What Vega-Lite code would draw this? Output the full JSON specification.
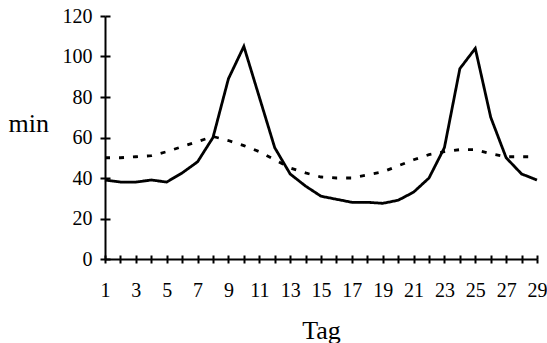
{
  "$schema": "https://vega.github.io/schema/vega-lite/v6.json",
  "width": 432,
  "height": 243,
  "autosize": {"type": "none"},
  "padding": {"left": 105, "top": 16, "right": 10, "bottom": 84},
  "background": "white",
  "config": {"view": {"stroke": null}, "font": "Liberation Serif"},
  "data": {
    "values": [
      {"Tag": 1, "serie": "A", "min": 39}, {"Tag": 2, "serie": "A", "min": 38}, {"Tag": 3, "serie": "A", "min": 38},
      {"Tag": 4, "serie": "A", "min": 39}, {"Tag": 5, "serie": "A", "min": 38}, {"Tag": 6, "serie": "A", "min": 42.5},
      {"Tag": 7, "serie": "A", "min": 48}, {"Tag": 8, "serie": "A", "min": 60}, {"Tag": 9, "serie": "A", "min": 89},
      {"Tag": 10, "serie": "A", "min": 105}, {"Tag": 11, "serie": "A", "min": 80}, {"Tag": 12, "serie": "A", "min": 55},
      {"Tag": 13, "serie": "A", "min": 42}, {"Tag": 14, "serie": "A", "min": 36}, {"Tag": 15, "serie": "A", "min": 31},
      {"Tag": 16, "serie": "A", "min": 29.5}, {"Tag": 17, "serie": "A", "min": 28}, {"Tag": 18, "serie": "A", "min": 28},
      {"Tag": 19, "serie": "A", "min": 27.5}, {"Tag": 20, "serie": "A", "min": 29}, {"Tag": 21, "serie": "A", "min": 33},
      {"Tag": 22, "serie": "A", "min": 40}, {"Tag": 23, "serie": "A", "min": 55}, {"Tag": 24, "serie": "A", "min": 94},
      {"Tag": 25, "serie": "A", "min": 104}, {"Tag": 26, "serie": "A", "min": 70}, {"Tag": 27, "serie": "A", "min": 50},
      {"Tag": 28, "serie": "A", "min": 42}, {"Tag": 29, "serie": "A", "min": 39},
      {"Tag": 1, "serie": "B", "min": 50}, {"Tag": 2, "serie": "B", "min": 50}, {"Tag": 3, "serie": "B", "min": 50.5},
      {"Tag": 4, "serie": "B", "min": 51}, {"Tag": 5, "serie": "B", "min": 53}, {"Tag": 6, "serie": "B", "min": 55.5},
      {"Tag": 7, "serie": "B", "min": 58}, {"Tag": 8, "serie": "B", "min": 60.5}, {"Tag": 9, "serie": "B", "min": 58.5},
      {"Tag": 10, "serie": "B", "min": 56}, {"Tag": 11, "serie": "B", "min": 53}, {"Tag": 12, "serie": "B", "min": 49},
      {"Tag": 13, "serie": "B", "min": 45}, {"Tag": 14, "serie": "B", "min": 42.5}, {"Tag": 15, "serie": "B", "min": 40.5},
      {"Tag": 16, "serie": "B", "min": 40}, {"Tag": 17, "serie": "B", "min": 40}, {"Tag": 18, "serie": "B", "min": 41.5},
      {"Tag": 19, "serie": "B", "min": 43}, {"Tag": 20, "serie": "B", "min": 46}, {"Tag": 21, "serie": "B", "min": 49},
      {"Tag": 22, "serie": "B", "min": 51.5}, {"Tag": 23, "serie": "B", "min": 53}, {"Tag": 24, "serie": "B", "min": 54},
      {"Tag": 25, "serie": "B", "min": 54}, {"Tag": 26, "serie": "B", "min": 52}, {"Tag": 27, "serie": "B", "min": 50.5},
      {"Tag": 28, "serie": "B", "min": 50.5}, {"Tag": 29, "serie": "B", "min": 50.5}
    ]
  },
  "mark": {"type": "line", "stroke": "black", "strokeWidth": 2.8},
  "encoding": {
    "x": {
      "field": "Tag", "type": "quantitative",
      "scale": {"domain": [1, 29], "nice": false, "zero": false},
      "axis": {
        "title": "Tag", "titleFontSize": 26, "titleFontWeight": "normal", "titleColor": "black",
        "titleBaseline": "alphabetic", "titleY": 79,
        "values": [1,2,3,4,5,6,7,8,9,10,11,12,13,14,15,16,17,18,19,20,21,22,23,24,25,26,27,28,29],
        "labelExpr": "datum.value % 2 == 1 ? datum.label : ''",
        "labelFontSize": 20, "labelColor": "black", "labelPadding": 17, "labelOverlap": false, "labelFlush": false,
        "tickSize": 4, "tickColor": "black", "tickWidth": 2,
        "domainColor": "black", "domainWidth": 2,
        "grid": true, "gridColor": "black", "gridWidth": 2, "gridDash": [0, 239, 4, 1000], "gridOpacity": 1
      }
    },
    "y": {
      "field": "min", "type": "quantitative",
      "scale": {"domain": [0, 120], "nice": false},
      "axis": {
        "title": "min", "titleFontSize": 26, "titleFontWeight": "normal", "titleColor": "black",
        "titleAngle": 0, "titleAlign": "left", "titleBaseline": "middle", "titleX": -97, "titleY": 107,
        "values": [0, 20, 40, 60, 80, 100, 120],
        "labelFontSize": 20, "labelColor": "black", "labelPadding": 8,
        "tickSize": 5, "tickColor": "black", "tickWidth": 2,
        "domainColor": "black", "domainWidth": 2,
        "grid": true, "gridColor": "black", "gridWidth": 2, "gridDash": [5, 1000], "gridOpacity": 1
      }
    },
    "strokeDash": {
      "field": "serie", "type": "nominal",
      "scale": {"domain": ["A", "B"], "range": [[1, 0], [5, 9]]},
      "legend": null
    }
  }
}
